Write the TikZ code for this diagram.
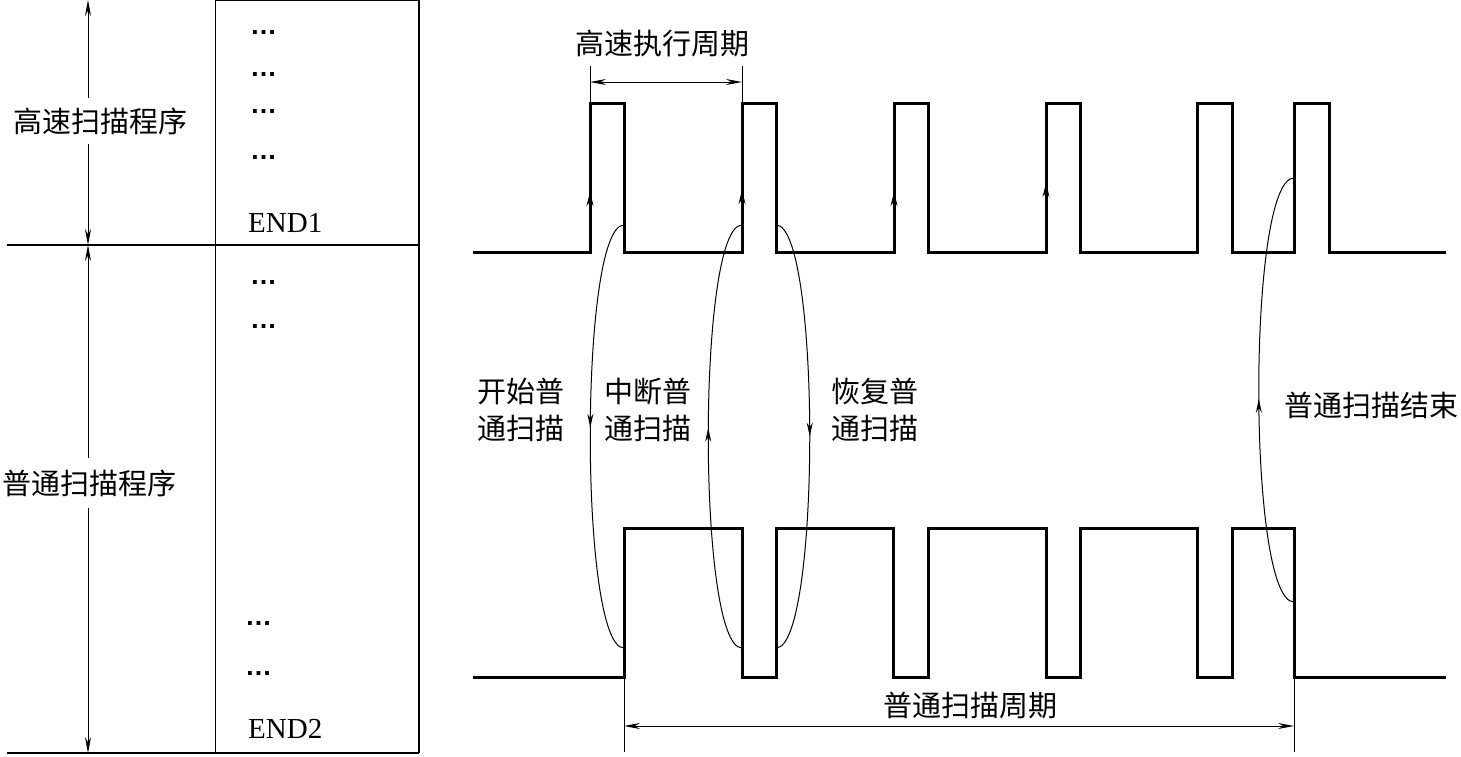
\documentclass[tikz,border=0pt]{standalone}
\usepackage{fontspec}
\setmainfont{Liberation Serif}
\newfontfamily\cjk{Noto Sans CJK SC}
\newfontfamily\dotfont{Liberation Sans}
\usetikzlibrary{arrows.meta,decorations.markings}
\begin{document}
\begin{tikzpicture}[x=1pt,y=-1pt,
  sig/.style={line width=3pt, line join=miter},
  thinl/.style={line width=1pt},
  frame/.style={line width=1.4pt},
  dimtip/.style={thinl,{Stealth[length=16pt,width=6pt]}-{Stealth[length=16pt,width=6pt]}},
  edgetip/.style={thinl,-{Stealth[length=14pt,width=7pt]}},
  lbl/.style={font=\cjk\fontsize{29}{36}\selectfont, inner sep=0pt, text height=24pt, text depth=2pt, align=center},
  lbltwo/.style={font=\cjk\fontsize{29}{37}\selectfont, inner sep=0pt, align=center},
  lat/.style={font=\fontsize{29}{34}\selectfont, inner sep=0pt, anchor=base west},
  dots/.style={font=\dotfont\bfseries\fontsize{27}{32}\selectfont, inner sep=0pt, anchor=base west},
  flow/.style={thinl, postaction={decorate}, decoration={markings, mark=at position #1 with {\arrow{Stealth[length=14pt,width=6pt]}}}},
  flow/.default=0.5
]
\useasboundingbox (0,0) rectangle (1461,756);

% ---- left table ----
\draw[frame] (7,245) -- (419,245);
\draw[frame] (7,753) -- (419,753);
\draw[thinl] (215,0) -- (215,753);
\draw[frame] (419,0) -- (419,753);
\draw[frame] (215,0.7) -- (419,0.7);

\coordinate (ta) at (88,0);
\coordinate (tb) at (88,245);
\coordinate (bb) at (88,753);
\draw[dimtip] (ta) -- (tb);
\draw[dimtip] (tb) -- (bb);
\node[lbl, fill=white, inner ysep=10pt] (hs) at (100,121) {高速扫描程序};
\node[lbl, fill=white, inner ysep=12pt] (ns) at (89,483) {普通扫描程序};

\node[dots] (dA) at (250,34) {…};
\node[dots] (dB) at (250,76) {…};
\node[dots] (dC) at (250,113) {…};
\node[dots] (dD) at (250,159) {…};
\node[lat] (e1) at (248,232) {END1};
\node[dots] (dE) at (250,284) {…};
\node[dots] (dF) at (250,328) {…};
\node[dots] (dG) at (245,625) {…};
\node[dots] (dH) at (245,675) {…};
\node[lat] (e2) at (248,738) {END2};

% ---- signals ----
\draw[sig] (473,252) -| (590,103) -| (624,252) -| (742,103) -| (776,252)
  -| (894,103) -| (928,252) -| (1046,103) -| (1080,252) -| (1197,103)
  -| (1232,252) -| (1294,103) -| (1329,252) -- (1446,252);
\draw[sig] (473,677) -| (624,528) -| (742,677) -| (776,528) -| (893,677)
  -| (928,528) -| (1046,677) -| (1080,528) -| (1197,677) -| (1232,528)
  -| (1294,677) -- (1446,677);

% rising-edge arrows
\coordinate (r1a) at (590,215); \coordinate (r1b) at (590,192);
\coordinate (r2a) at (742,215); \coordinate (r2b) at (742,190);
\coordinate (r3a) at (894,215); \coordinate (r3b) at (894,192);
\coordinate (r4a) at (1046,210); \coordinate (r4b) at (1046,183);
\draw[edgetip] (r1a) -- (r1b);
\draw[edgetip] (r2a) -- (r2b);
\draw[edgetip] (r3a) -- (r3b);
\draw[edgetip] (r4a) -- (r4b);

% ---- dimension: high speed period ----
\coordinate (h1) at (590,66); \coordinate (h1b) at (590,103);
\coordinate (h2) at (742,66); \coordinate (h2b) at (742,103);
\coordinate (h1m) at (590,82); \coordinate (h2m) at (742,82);
\draw[thinl] (h1) -- (h1b);
\draw[thinl] (h2) -- (h2b);
\draw[dimtip] (h1m) -- (h2m);
\node[lbl] (hp) at (662,43) {高速执行周期};

% ---- dimension: normal scan period ----
\coordinate (n1) at (624,677); \coordinate (n1b) at (624,752);
\coordinate (n2) at (1294,677); \coordinate (n2b) at (1294,752);
\coordinate (n1m) at (624,726); \coordinate (n2m) at (1294,726);
\draw[thinl] (n1) -- (n1b);
\draw[thinl] (n2) -- (n2b);
\draw[dimtip] (n1m) -- (n2m);
\node[lbl] (np) at (970,705) {普通扫描周期};

% ---- curves ----
\coordinate (c1s) at (624,225); \coordinate (c1e) at (624,648);
\coordinate (c2s) at (742,648); \coordinate (c2e) at (742,225);
\coordinate (c3s) at (776,225); \coordinate (c3e) at (776,648);
\coordinate (c4s) at (1294,602); \coordinate (c4e) at (1294,178);
\draw[flow=0.48] (c1s) .. controls (579,225) and (579,648) .. (c1e);
\draw[flow=0.52] (c2s) .. controls (697,648) and (697,225) .. (c2e);
\draw[flow=0.5] (c3s) .. controls (821,225) and (821,648) .. (c3e);
\draw[flow=0.48] (c4s) .. controls (1247,602) and (1247,178) .. (c4e);

\node[lbltwo] (l1) at (521,410) {开始普\\通扫描};
\node[lbltwo] (l2) at (648,410) {中断普\\通扫描};
\node[lbltwo] (l3) at (875,410) {恢复普\\通扫描};
\node[lbl] (l4) at (1371,405) {普通扫描结束};
\end{tikzpicture}
\end{document}
